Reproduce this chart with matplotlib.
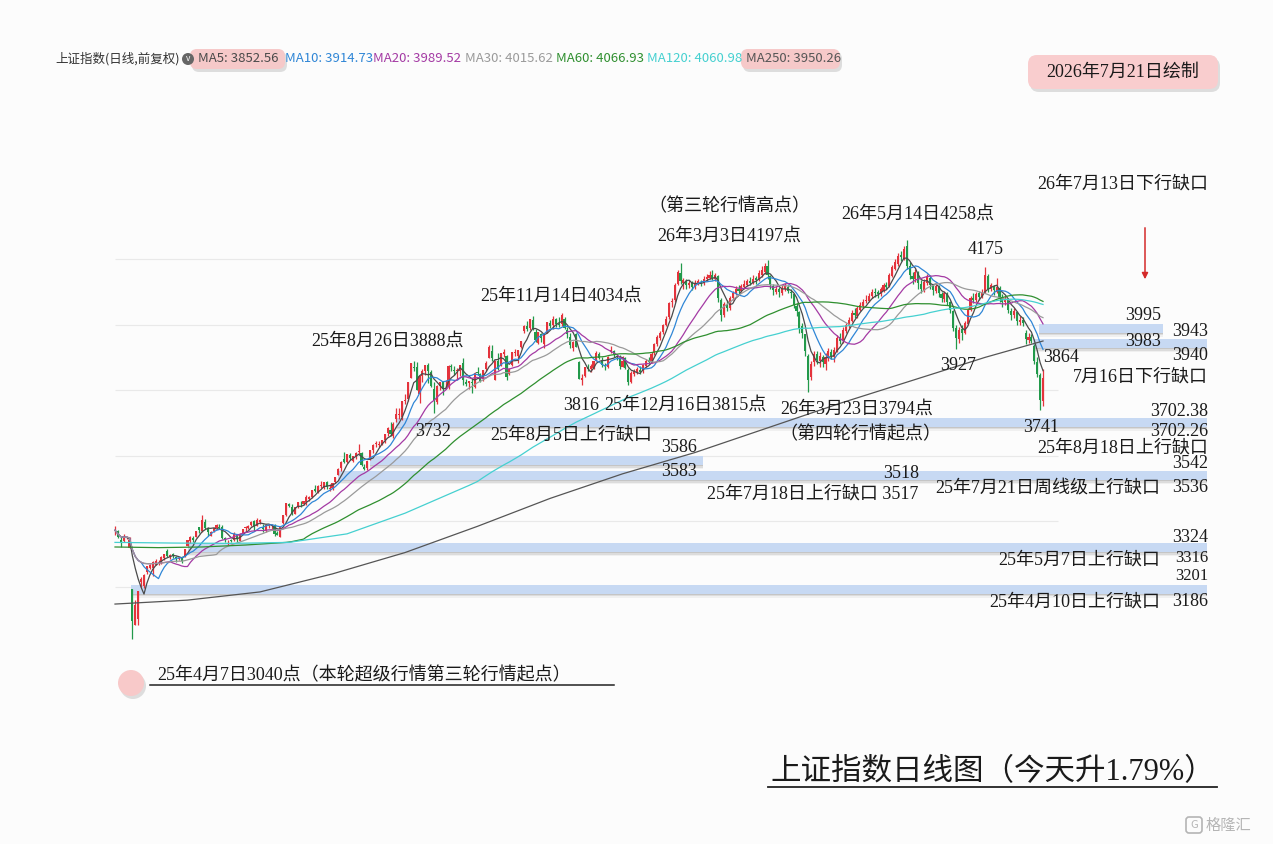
import matplotlib.pyplot as plt
import numpy as np
import pandas as pd
from matplotlib.patches import FancyBboxPatch, Circle, Rectangle

W, H = 1273, 844
SERIF = ['Liberation Serif', 'Noto Sans CJK SC']
SANS = ['Noto Sans CJK SC', 'DejaVu Sans']
plt.rcParams['font.family'] = SERIF

# daily candles, 2025-03-27 .. 2026-07-21
opens = [3370, 3372, 3343, 3340, 3349, 3319, 3194, 3084, 3101, 3214,
         3203, 3247, 3257, 3258, 3268, 3275, 3274, 3289, 3310, 3290,
         3300, 3292, 3286, 3288, 3294, 3325, 3340, 3350, 3352, 3382,
         3372, 3398, 3376, 3357, 3370, 3379, 3382, 3382, 3348, 3339,
         3343, 3342, 3360, 3341, 3364, 3379, 3380, 3389, 3402, 3386,
         3398, 3383, 3372, 3386, 3385, 3386, 3365, 3353, 3394, 3420,
         3452, 3445, 3423, 3445, 3457, 3452, 3458, 3468, 3473, 3498,
         3490, 3507, 3502, 3521, 3500, 3502, 3521, 3542, 3562, 3589,
         3582, 3603, 3585, 3598, 3613, 3609, 3567, 3563, 3586, 3617,
         3637, 3632, 3634, 3649, 3668, 3680, 3660, 3711, 3725, 3718,
         3767, 3774, 3836, 3869, 3871, 3789, 3842, 3859, 3878, 3855,
         3803, 3765, 3813, 3824, 3812, 3810, 3874, 3862, 3860, 3860,
         3882, 3826, 3821, 3826, 3811, 3857, 3850, 3833, 3866, 3898,
         3920, 3830, 3890, 3874, 3910, 3904, 3848, 3877, 3913, 3903,
         3933, 3979, 3995, 3991, 4015, 3978, 3944, 3972, 3940, 3975,
         4004, 3999, 4016, 4002, 4002, 4017, 3984, 3962, 3930, 3970,
         3885, 3830, 3842, 3870, 3865, 3868, 3890, 3911, 3890, 3876,
         3870, 3915, 3920, 3905, 3898, 3872, 3897, 3862, 3826, 3850,
         3856, 3862, 3858, 3875, 3892, 3888, 3912, 3942, 3960, 3978,
         4000, 4022, 4068, 4075, 4125, 4158, 4128, 4133, 4120, 4126,
         4116, 4126, 4130, 4126, 4138, 4142, 4152, 4140, 4148, 4075,
         4030, 4060, 4052, 4082, 4094, 4110, 4102, 4115, 4122, 4134,
         4128, 4142, 4135, 4150, 4160, 4178, 4148, 4118, 4100, 4110,
         4096, 4110, 4116, 4100, 4092, 4058, 4038, 3995, 3970, 3905,
         3840, 3885, 3910, 3890, 3902, 3880, 3898, 3915, 3900, 3920,
         3962, 3950, 3980, 3995, 4012, 4035, 4025, 4045, 4058, 4072,
         4072, 4086, 4100, 4098, 4092, 4102, 4122, 4118, 4148, 4170,
         4185, 4212, 4200, 4240, 4180, 4148, 4138, 4158, 4125, 4105,
         4128, 4142, 4118, 4102, 4115, 4092, 4078, 4092, 4068, 4040,
         3990, 3955, 3988, 3975, 4002, 4045, 4082, 4075, 4095, 4085,
         4098, 4148, 4108, 4118, 4100, 4112, 4085, 4068, 4075, 4042,
         4028, 4038, 4008, 4015, 3975, 3952, 3962, 3935, 3885, 3845,
         3768]
highs = [3385, 3375, 3351, 3361, 3356, 3352, 3194, 3159, 3188, 3232,
         3241, 3265, 3271, 3280, 3284, 3282, 3295, 3300, 3317, 3300,
         3305, 3296, 3292, 3290, 3316, 3343, 3357, 3354, 3372, 3384,
         3418, 3406, 3384, 3370, 3382, 3391, 3391, 3388, 3352, 3343,
         3346, 3368, 3363, 3365, 3377, 3385, 3388, 3401, 3404, 3409,
         3407, 3391, 3393, 3391, 3393, 3391, 3372, 3384, 3420, 3456,
         3456, 3453, 3445, 3458, 3461, 3462, 3479, 3477, 3497, 3510,
         3510, 3524, 3521, 3523, 3515, 3517, 3536, 3563, 3585, 3613,
         3606, 3608, 3598, 3612, 3636, 3613, 3574, 3583, 3617, 3635,
         3646, 3645, 3648, 3666, 3688, 3704, 3702, 3746, 3746, 3767,
         3787, 3826, 3883, 3888, 3887, 3845, 3866, 3876, 3882, 3861,
         3825, 3815, 3826, 3828, 3830, 3876, 3880, 3873, 3868, 3876,
         3899, 3835, 3829, 3838, 3855, 3870, 3853, 3863, 3888, 3937,
         3937, 3891, 3913, 3912, 3925, 3907, 3869, 3917, 3925, 3923,
         3951, 3999, 4010, 4016, 4025, 3988, 3977, 3975, 3972, 4009,
         4013, 4025, 4020, 4022, 4034, 4023, 3994, 3975, 3950, 3975,
         3889, 3848, 3870, 3881, 3880, 3889, 3918, 3917, 3900, 3884,
         3903, 3936, 3922, 3910, 3906, 3903, 3900, 3867, 3858, 3866,
         3872, 3875, 3880, 3895, 3902, 3915, 3945, 3968, 3982, 4002,
         4025, 4070, 4082, 4128, 4166, 4188, 4142, 4140, 4135, 4132,
         4135, 4140, 4136, 4148, 4155, 4162, 4166, 4158, 4150, 4080,
         4068, 4075, 4088, 4102, 4118, 4120, 4125, 4135, 4140, 4145,
         4150, 4148, 4165, 4180, 4188, 4197, 4152, 4125, 4118, 4116,
         4120, 4128, 4122, 4110, 4095, 4065, 4042, 4005, 3972, 3910,
         3890, 3918, 3920, 3915, 3908, 3912, 3928, 3925, 3932, 3968,
         3975, 3992, 4005, 4022, 4045, 4050, 4058, 4068, 4078, 4090,
         4095, 4108, 4112, 4105, 4115, 4126, 4130, 4156, 4182, 4200,
         4218, 4225, 4240, 4258, 4190, 4160, 4170, 4162, 4135, 4140,
         4155, 4150, 4125, 4128, 4122, 4100, 4102, 4098, 4072, 4045,
         4000, 3992, 3998, 4012, 4052, 4088, 4095, 4100, 4102, 4110,
         4175, 4155, 4128, 4122, 4142, 4118, 4092, 4088, 4080, 4050,
         4052, 4042, 4025, 4022, 3983, 3975, 3970, 3940, 3900, 3852,
         3864]
lows = [3360, 3348, 3321, 3337, 3345, 3318, 3041, 3084, 3085, 3201,
        3196, 3240, 3254, 3233, 3266, 3268, 3270, 3283, 3290, 3286,
        3287, 3276, 3281, 3274, 3292, 3324, 3333, 3338, 3351, 3364,
        3367, 3378, 3357, 3355, 3367, 3376, 3376, 3347, 3338, 3327,
        3336, 3340, 3338, 3339, 3364, 3372, 3378, 3387, 3371, 3386,
        3392, 3369, 3368, 3381, 3376, 3356, 3358, 3351, 3392, 3417,
        3444, 3421, 3423, 3441, 3445, 3450, 3450, 3463, 3472, 3490,
        3488, 3502, 3499, 3500, 3493, 3497, 3518, 3542, 3553, 3577,
        3578, 3588, 3581, 3590, 3607, 3568, 3556, 3557, 3586, 3610,
        3626, 3626, 3632, 3640, 3660, 3660, 3655, 3702.4, 3713, 3709,
        3759, 3768, 3836, 3859, 3800, 3761, 3826, 3847, 3821, 3810,
        3732, 3757, 3800, 3785, 3805, 3804, 3858, 3847, 3833, 3844,
        3815, 3813, 3804, 3790, 3808, 3847, 3825, 3829, 3860, 3897,
        3890, 3830, 3863, 3874, 3900, 3830, 3845, 3875, 3903, 3882,
        3930, 3975, 3979, 3983, 3984, 3948, 3941, 3946, 3929, 3975,
        3990, 3987, 3994, 3994, 3995, 3988, 3960, 3929, 3920, 3931,
        3834, 3816, 3841, 3858, 3857, 3866, 3889, 3894, 3872, 3862,
        3868, 3912, 3900, 3892, 3866, 3872, 3864, 3815, 3822, 3842,
        3848, 3850, 3852, 3870, 3880, 3884, 3908, 3935, 3952, 3970,
        3995, 4018, 4055, 4070, 4120, 4125, 4108, 4110, 4112, 4105,
        4110, 4120, 4118, 4122, 4132, 4138, 4135, 4132, 4070, 4012,
        4022, 4040, 4045, 4076, 4090, 4095, 4098, 4110, 4118, 4120,
        4125, 4125, 4132, 4145, 4155, 4140, 4110, 4090, 4092, 4085,
        4090, 4102, 4095, 4082, 4050, 4025, 3975, 3960, 3905, 3794,
        3830, 3875, 3880, 3870, 3872, 3862, 3890, 3895, 3885, 3915,
        3942, 3945, 3975, 3990, 4008, 4020, 4020, 4040, 4052, 4065,
        4068, 4082, 4085, 4080, 4088, 4098, 4108, 4115, 4145, 4165,
        4180, 4195, 4198, 4170, 4140, 4125, 4130, 4110, 4095, 4100,
        4120, 4110, 4090, 4095, 4085, 4068, 4070, 4060, 4035, 3980,
        3927, 3945, 3952, 3970, 3998, 4040, 4065, 4068, 4075, 4080,
        4095, 4100, 4102, 4090, 4095, 4070, 4055, 4060, 4035, 4015,
        4020, 3998, 4000, 3995, 3940, 3945, 3943, 3880, 3840, 3741,
        3752]
closes = [3373, 3351, 3336, 3348, 3350, 3342, 3097, 3146, 3187, 3224,
          3238, 3263, 3268, 3276, 3280, 3277, 3292, 3300, 3296, 3297,
          3295, 3288, 3287, 3279, 3316, 3343, 3352, 3342, 3370, 3374,
          3404, 3381, 3367, 3368, 3381, 3388, 3380, 3348, 3346, 3340,
          3340, 3363, 3347, 3362, 3377, 3384, 3385, 3399, 3385, 3403,
          3403, 3377, 3389, 3387, 3388, 3363, 3360, 3382, 3420, 3455,
          3448, 3425, 3444, 3458, 3455, 3461, 3473, 3473, 3497, 3494,
          3509, 3510, 3520, 3505, 3503, 3516, 3534, 3560, 3582, 3582,
          3605, 3594, 3598, 3610, 3616, 3573, 3560, 3583, 3617, 3634,
          3640, 3635, 3648, 3665, 3684, 3666, 3697, 3728, 3727, 3766,
          3771, 3826, 3883, 3868, 3800, 3843, 3858, 3876, 3858, 3813,
          3766, 3812, 3826, 3807, 3812, 3875, 3870, 3860, 3861, 3876,
          3831, 3820, 3828, 3822, 3853, 3853, 3828, 3862, 3883, 3933,
          3897, 3889, 3865, 3912, 3916, 3839, 3864, 3917, 3914, 3922,
          3950, 3996, 3988, 4016, 3987, 3954, 3976, 3960, 3969, 4008,
          3997, 4018, 4002, 4000, 4029, 3990, 3972, 3939, 3947, 3931,
          3835, 3836, 3870, 3864, 3875, 3888, 3914, 3898, 3878, 3875,
          3902, 3924, 3910, 3900, 3873, 3889, 3867, 3824, 3852, 3858,
          3866, 3855, 3876, 3890, 3885, 3910, 3940, 3962, 3975, 3998,
          4018, 4065, 4072, 4122, 4160, 4132, 4135, 4122, 4128, 4115,
          4128, 4132, 4125, 4140, 4145, 4150, 4142, 4150, 4080, 4030,
          4062, 4050, 4082, 4095, 4110, 4102, 4118, 4125, 4132, 4128,
          4140, 4135, 4158, 4165, 4178, 4150, 4120, 4105, 4110, 4098,
          4112, 4118, 4102, 4095, 4060, 4040, 3990, 3975, 3920, 3830,
          3880, 3910, 3892, 3905, 3885, 3900, 3918, 3905, 3922, 3960,
          3950, 3985, 3998, 4015, 4035, 4028, 4050, 4060, 4070, 4075,
          4088, 4100, 4095, 4092, 4108, 4120, 4115, 4150, 4175, 4190,
          4210, 4205, 4230, 4180, 4150, 4140, 4160, 4128, 4108, 4130,
          4145, 4120, 4105, 4118, 4095, 4080, 4095, 4070, 4045, 3990,
          3960, 3985, 3975, 4005, 4045, 4080, 4075, 4092, 4085, 4100,
          4150, 4110, 4120, 4105, 4115, 4085, 4070, 4078, 4045, 4030,
          4040, 4010, 4015, 4005, 3955, 3962, 3950, 3890, 3850, 3770,
          3838]

ma60_head_idx = [0, 15, 30, 45]
ma60_head_val = [3322, 3320, 3322, 3328]
ma120_head_idx = [0, 20, 40, 60, 80, 100]
ma120_head_val = [3336, 3334, 3333, 3336, 3362, 3425]
ma250_idx = [0, 25, 50, 75, 100, 125, 150, 175, 200, 225, 250, 275, 300, 320]
ma250_val = [3148, 3160, 3185, 3240, 3305, 3385, 3470, 3545, 3610, 3685,
             3760, 3830, 3900, 3950]

ma_names = ['MA5', 'MA10', 'MA20', 'MA30', 'MA60', 'MA120', 'MA250']
ma_last = ['3852.56', '3914.73', '3989.52', '4015.62', '4066.93', '4060.98', '3950.26']
ma_colors = ['#4a4a4a', '#2f86d6', '#a43aa4', '#9a9a9a', '#2f8f2f', '#45d0d0', '#555555']

# price gaps
gap_low = [3186, 3316, 3536, 3583, 3702.26, 3940, 3983]
gap_high = [3201, 3324, 3542, 3586, 3702.38, 3943, 3995]
gap_start = [5.5, 25, 77, 88, 97, 316.5, 318.5]
gap_end_px = [1207, 1207, 1207, 703, 1207, 1207, 1163]

# pixel <-> data mapping of the chart area
X0_PX, DX_PX = 115, 2.9
Y4200_PX, PX_PER_200 = 259, 65.6


def x_of(px):
    return (px - X0_PX) / DX_PX


def p_of(py):
    return 4200 - (py - Y4200_PX) * 200 / PX_PER_200


fig = plt.figure(figsize=(W / 100, H / 100), dpi=100)
fig.patch.set_facecolor('#fcfcfc')
ax = fig.add_axes([0, 0, 1, 1])
ax.set_xlim(x_of(0), x_of(W))
ax.set_ylim(p_of(H), p_of(0))
ax.axis('off')

n = len(closes)
idx = np.arange(n)
o = np.array(opens, float)
h = np.array(highs, float)
l = np.array(lows, float)
c = np.array(closes, float)

# grid
for p in range(3200, 4400, 200):
    ax.hlines(p, 0, x_of(1058), color='#e9e9e9', lw=0.8, zorder=0)

# gap bands with soft shadow
half = 4.5 * 200 / PX_PER_200
step = 200 / PX_PER_200
for lo, hi, s, e in zip(gap_low, gap_high, gap_start, gap_end_px):
    mid = (lo + hi) / 2
    for k, a in [(1, 0.35), (2.5, 0.22), (4, 0.12)]:
        ax.add_patch(Rectangle((s, mid - half - k * step), x_of(e) - s, 2 * half,
                               fc='#9a9a9a', ec='none', alpha=a, zorder=0.6))
    ax.add_patch(Rectangle((s, mid - half), x_of(e) - s, 2 * half,
                           fc='#c7d9f3', ec='none', zorder=0.8))

# candles
up = c >= o
col = np.where(up, '#e4333c', '#22994a')
ax.vlines(idx, l, h, colors=col, lw=0.9, zorder=2)
ax.bar(idx, np.maximum(np.abs(c - o), 2), bottom=np.minimum(o, c), width=0.72,
       color=col, linewidth=0, zorder=2)

# moving averages
s = pd.Series(c)
for win, mc in zip([5, 10, 20, 30], ma_colors[:4]):
    ax.plot(idx, s.rolling(win, min_periods=1).mean(), color=mc, lw=0.9, zorder=3)
ma60 = s.rolling(60).mean().to_numpy()
ax.plot(ma60_head_idx + list(idx[59:]), ma60_head_val + list(ma60[59:]),
        color=ma_colors[4], lw=0.9, zorder=3)
ma120 = s.rolling(120).mean().to_numpy()
ax.plot(ma120_head_idx + list(idx[119:]), ma120_head_val + list(ma120[119:]),
        color=ma_colors[5], lw=0.9, zorder=3)
ax.plot(ma250_idx, ma250_val, color=ma_colors[6], lw=0.9, zorder=3)

# overlay in pixel coordinates for the annotations
ov = fig.add_axes([0, 0, 1, 1])
ov.set_xlim(0, W)
ov.set_ylim(H, 0)
ov.axis('off')
ov.patch.set_alpha(0)


def put(x, y, t, size=13, ha='center', **kw):
    ov.text(x, y, t, fontsize=size, ha=ha, va='center', family=SERIF,
            color='#1a1a1a', **kw)


def pill(x, y, w, hgt, fc, r=6, shadow=True):
    if shadow:
        ov.add_patch(FancyBboxPatch((x + 2, y + 3), w, hgt,
                                    boxstyle=f'round,pad=0,rounding_size={r}',
                                    fc='#d6d6d6', ec='none', alpha=0.8))
    ov.add_patch(FancyBboxPatch((x, y), w, hgt, boxstyle=f'round,pad=0,rounding_size={r}',
                                fc=fc, ec='none'))


# legend row
ov.text(55, 59, '上证指数(日线,前复权)', family=SANS, fontsize=9, color='#333333', va='center')
pill(190, 49, 95, 20, '#f6c9c9', r=7)
pill(741, 49, 99, 20, '#f6c9c9', r=7)
ov.add_patch(Circle((188, 59), 6, fc='#666666', ec='none'))
ov.text(188, 58.5, 'v', fontsize=6, color='white', ha='center', va='center', family=SANS)
legend_x = [198, 285, 373, 465, 556, 647, 746]
for lx, nm, val, mc in zip(legend_x, ma_names, ma_last, ma_colors):
    ov.text(lx, 59, f'{nm}: {val}', family=SANS, fontsize=9.5, color=mc, va='center')

# date box
pill(1028, 55, 190, 34, '#f9cdce', r=9)
put(1123, 72, '2026年7月21日绘制', size=13)

# chart annotations
put(1123, 184, '26年7月13日下行缺口')
ov.annotate('', xy=(1145, 282), xytext=(1145, 225),
            arrowprops=dict(arrowstyle='-|>', color='#d42a2a', lw=1.1, mutation_scale=9))
put(729, 207, '（第三轮行情高点）')
put(729, 236, '26年3月3日4197点')
put(918, 214, '26年5月14日4258点')
put(986, 250, '4175')
put(561, 296, '25年11月14日4034点')
put(388, 341, '25年8月26日3888点')
put(1161, 316, '3995', ha='right')
put(1208, 332, '3943', ha='right')
put(1161, 342, '3983', ha='right')
put(1043, 358, '3864', ha='left')
put(1208, 356, '3940', ha='right')
put(958, 365, '3927')
put(1208, 377, '7月16日下行缺口', ha='right')
put(581, 405, '3816')
put(685, 405, '25年12月16日3815点')
put(857, 409, '26年3月23日3794点')
put(1208, 412, '3702.38', ha='right')
put(433, 431, '3732')
put(571, 435, '25年8月5日上行缺口')
put(860, 435, '（第四轮行情起点）')
put(1041, 427, '3741')
put(1208, 431, '3702.26', ha='right')
put(1208, 448, '25年8月18日上行缺口', ha='right')
put(679, 448, '3586')
put(1208, 464, '3542', ha='right')
put(679, 471, '3583')
put(901, 473, '3518')
put(813, 494, '25年7月18日上行缺口 3517')
put(1160, 488, '25年7月21日周线级上行缺口', ha='right')
put(1208, 487, '3536', ha='right')
put(1208, 537, '3324', ha='right')
put(1160, 560, '25年5月7日上行缺口', ha='right')
put(1208, 558, '3316', ha='right', size=12)
put(1208, 576, '3201', ha='right', size=12)
put(1160, 602, '25年4月10日上行缺口', ha='right')
put(1208, 602, '3186', ha='right')

# bottom-left note
ov.add_patch(Circle((133, 686), 13, fc='#d0d0d0', ec='none', alpha=0.7))
ov.add_patch(Circle((131, 683), 13, fc='#f8c9c9', ec='none'))
put(157, 676, '25年4月7日3040点（本轮超级行情第三轮行情起点）', ha='left')
ov.plot([150, 614], [685, 685], color='#222222', lw=1.1)

# title
put(993, 773, '上证指数日线图（今天升1.79%）', size=22)
ov.plot([768, 1217], [787, 787], color='#222222', lw=1.3)

# watermark
ov.add_patch(FancyBboxPatch((1186, 817), 16, 16, boxstyle='round,pad=0,rounding_size=3',
                            fc='none', ec='#b5b5b5', lw=1.2))
ov.text(1194, 825.5, 'G', fontsize=8, color='#b5b5b5', ha='center', va='center', family=SANS)
ov.text(1206, 825, '格隆汇', fontsize=11, color='#b5b5b5', ha='left', va='center', family=SANS)

fig.savefig('out.png', dpi=100, facecolor=fig.get_facecolor())
